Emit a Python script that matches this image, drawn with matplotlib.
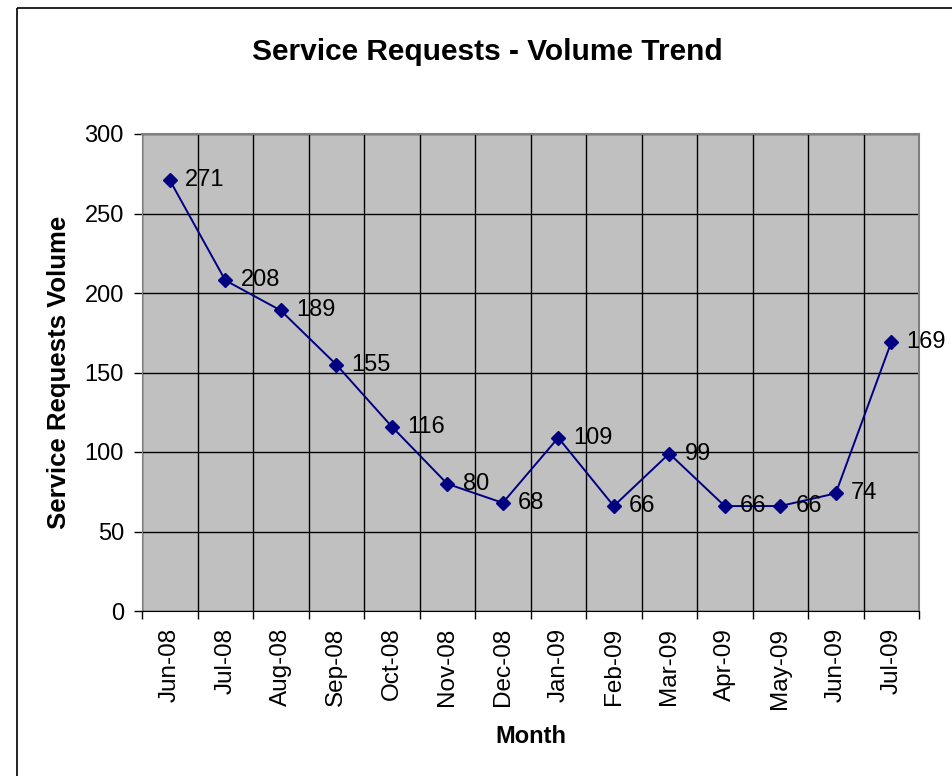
import matplotlib.pyplot as plt
from matplotlib.patches import Rectangle
import numpy as np

plt.rcParams['font.family'] = ['Liberation Sans', 'DejaVu Sans']

months = ['Jun-08', 'Jul-08', 'Aug-08', 'Sep-08', 'Oct-08', 'Nov-08', 'Dec-08',
          'Jan-09', 'Feb-09', 'Mar-09', 'Apr-09', 'May-09', 'Jun-09', 'Jul-09']
volume = [271, 208, 189, 155, 116, 80, 68, 109, 66, 99, 66, 66, 74, 169]

W, H = 952, 776
fig = plt.figure(figsize=(W / 100, H / 100), dpi=100)

# outer chart border (right/bottom edges fall outside the picture)
fig.patches.append(Rectangle((17 / W, 1 - 8 / H), 2, -2, transform=fig.transFigure,
                             fill=False, edgecolor='black', linewidth=1.2))

ax = fig.add_axes([142 / W, 1 - 611 / H, (919 - 142) / W, (611 - 134) / H])
ax.set_facecolor('#C0C0C0')

x = np.arange(len(months)) + 0.5
ax.plot(x, volume, color='#000080', linewidth=1.4, marker='D', markersize=7,
        markerfacecolor='#000080', markeredgecolor='#000080', zorder=3, clip_on=False)

for xi, v in zip(x, volume):
    ax.annotate(str(v), (xi, v), xytext=(11, 0), textcoords='offset points',
                va='center', ha='left', fontsize=17, color='black')

ax.set_xlim(0, len(months))
ax.set_ylim(0, 300)
ax.set_yticks(range(0, 301, 50))
ax.set_xticks(range(0, len(months) + 1))
ax.set_xticklabels([])
ax.set_xticks(x, minor=True)
ax.set_xticklabels(months, minor=True, rotation=90, fontsize=17.5)
ax.tick_params(axis='x', which='minor', length=0, pad=12)
ax.tick_params(axis='x', which='major', length=6, width=1, direction='out')
ax.tick_params(axis='y', length=6, width=1, direction='out', labelsize=17, pad=7)

ax.grid(True, which='major', color='black', linewidth=1)
ax.set_axisbelow(True)

for s in ['top', 'right']:
    ax.spines[s].set_color('#808080')
    ax.spines[s].set_linewidth(1.5)
ax.spines['left'].set_color('#808080')
ax.spines['bottom'].set_color('black')

ax.set_xlabel('Month', fontsize=17, fontweight='bold', labelpad=12)
ax.set_ylabel('Service Requests Volume', fontsize=18.5, fontweight='bold', labelpad=10)
fig.text(487 / W, 1 - 52 / H, 'Service Requests - Volume Trend', ha='center', va='center',
         fontsize=21.5, fontweight='bold')

fig.savefig('out.png', dpi=100)
